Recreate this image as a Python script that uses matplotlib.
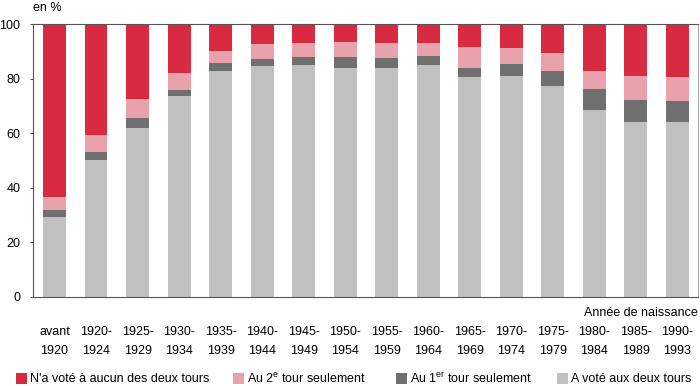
import numpy as np
import matplotlib
matplotlib.use("Agg")
import matplotlib.pyplot as plt
from matplotlib.patches import Rectangle

plt.rcParams['font.family'] = ['Liberation Sans', 'DejaVu Sans']
plt.rcParams['mathtext.fontset'] = 'custom'
plt.rcParams['mathtext.rm'] = 'Liberation Sans'

# Année de naissance
categories = ["avant\n1920", "1920-\n1924", "1925-\n1929", "1930-\n1934", "1935-\n1939",
              "1940-\n1944", "1945-\n1949", "1950-\n1954", "1955-\n1959", "1960-\n1964",
              "1965-\n1969", "1970-\n1974", "1975-\n1979", "1980-\n1984", "1985-\n1989",
              "1990-\n1993"]

# en %
deux_tours = [29.4, 50.0, 62.0, 73.6, 82.9, 84.5, 84.9, 83.9, 83.9, 84.9, 80.6, 81.0, 77.2, 68.4, 64.1, 64.1]
premier_seul = [2.5, 3.0, 3.6, 2.2, 2.8, 2.8, 2.9, 4.1, 3.6, 3.5, 3.3, 4.5, 5.7, 7.8, 8.2, 7.8]
second_seul = [4.6, 6.3, 6.8, 6.3, 4.4, 5.4, 5.2, 5.5, 5.5, 4.8, 7.7, 5.6, 6.5, 6.6, 8.8, 8.7]
aucun = [63.5, 40.7, 27.6, 17.9, 9.9, 7.3, 7.0, 6.5, 7.0, 6.8, 8.4, 8.9, 10.6, 17.2, 18.9, 19.4]

series = [
    ("A voté aux deux tours", deux_tours, "#c0c0c0"),
    (r"Au 1$^{\rm er}$ tour seulement", premier_seul, "#6f6f6f"),
    (r"Au 2$^{\rm e}$ tour seulement", second_seul, "#e9a1ac"),
    ("N'a voté à aucun des deux tours", aucun, "#d82a41"),
]

fs = 9

fig = plt.figure(figsize=(7, 3.86), dpi=100)
ax = fig.add_axes([0.0471, 0.2306, 0.9500, 0.7072])

x = np.arange(len(categories))
bottom = np.zeros(len(categories))
for label, vals, col in series:
    ax.bar(x, vals, bottom=bottom, width=0.55, color=col, linewidth=0)
    bottom += np.array(vals)

ax.set_xlim(-0.52, 15.5)
ax.set_ylim(0, 100)
ax.set_yticks([0, 20, 40, 60, 80, 100])
ax.set_xticks(x)
ax.set_xticklabels(categories, linespacing=1.75)
ax.tick_params(axis='x', length=0, pad=21, labelsize=fs)
ax.tick_params(axis='y', length=2.5, width=0.8, color='#555555', pad=6.5, labelsize=fs)
for s in ax.spines.values():
    s.set_color('#555555')
    s.set_linewidth(0.8)
ax.spines['right'].set_color('#aaaaaa')

fig.text(33 / 700, 1 - 8 / 386, "en %", ha='left', va='center', fontsize=fs)
fig.text(698 / 700, 1 - 313 / 386, "Année de naissance", ha='right', va='center', fontsize=fs)

# légende
leg_x = [16, 233, 396, 557]
order = [3, 2, 1, 0]
for px, idx in zip(leg_x, order):
    label, vals, col = series[idx]
    fig.patches.append(Rectangle((px / 700, 1 - 384 / 386), 11 / 700, 11 / 386,
                                 transform=fig.transFigure, color=col, linewidth=0))
    fig.text((px + 14) / 700, 1 - 379 / 386, label, ha='left', va='center', fontsize=fs)

fig.savefig("out.png", dpi=100)
